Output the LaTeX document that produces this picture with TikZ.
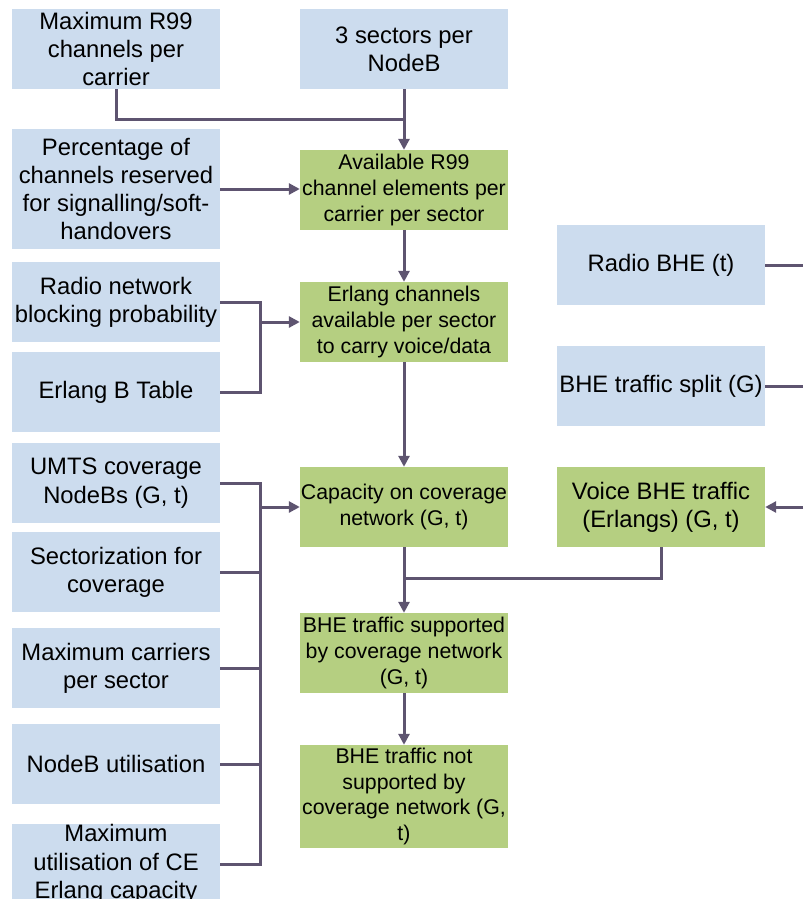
\documentclass[tikz,border=0pt]{standalone}
\usepackage{fontspec}
\setmainfont{Liberation Sans}
\usetikzlibrary{arrows.meta}
\definecolor{boxblue}{HTML}{CCDCEE}
\definecolor{boxgreen}{HTML}{B5CF81}
\definecolor{linec}{HTML}{5E5470}
\tikzset{
  base/.style={rectangle, inner sep=0pt, minimum width=208pt, minimum height=80pt, align=center, text=black},
  inbox/.style={base, fill=boxblue, font=\fontsize{23.8}{28.3}\selectfont},
  calcbox/.style={base, fill=boxgreen, font=\fontsize{21.3}{25.8}\selectfont},
  bigcalc/.style={base, fill=boxgreen, font=\fontsize{23.8}{28.3}\selectfont},
  conn/.style={draw=linec, line width=3pt},
  arr/.style={conn, -{Triangle[length=11pt,width=11pt]}}
}
\begin{document}
\begin{tikzpicture}[x=1pt,y=-1pt]
\useasboundingbox (0,0) rectangle (803,899);
\clip (0,0) rectangle (803,899);
% left column
\node[inbox] (maxr) at (116,49) {Maximum R99\\channels per\\carrier};
\node[inbox, minimum height=120pt] (pct) at (116,189) {Percentage of\\channels reserved\\for signalling/soft-\\handovers};
\node[inbox] (radio) at (116,302) {Radio network\\blocking probability};
\node[inbox] (erlb) at (116,392) {Erlang B Table};
\node[inbox] (umts) at (116,483) {UMTS coverage\\NodeBs (G, t)};
\node[inbox] (sect) at (116,572) {Sectorization for\\coverage};
\node[inbox] (maxc) at (116,668) {Maximum carriers\\per sector};
\node[inbox] (nbu) at (116,764) {NodeB utilisation};
\node[inbox] (maxu) at (116,864) {Maximum\\utilisation of CE\\Erlang capacity};
% centre column
\node[inbox] (sec) at (404,49) {3 sectors per\\NodeB};
\node[calcbox] (avail) at (404,190) {Available R99\\channel elements per\\carrier per sector};
\node[calcbox] (erlch) at (404,322) {Erlang channels\\available per sector\\to carry voice/data};
\node[calcbox] (cap) at (404,507) {Capacity on coverage\\network (G, t)};
\node[calcbox] (sup) at (404,653) {BHE traffic supported\\by coverage network\\(G, t)};
\node[calcbox, minimum height=103pt] (nsup) at (404,796.5) {BHE traffic not\\supported by\\coverage network (G,\\t)};
% right column
\node[inbox] (rbhe) at (661,265) {Radio BHE (t)};
\node[inbox] (split) at (661,386) {BHE traffic split (G)};
\node[bigcalc] (voice) at (661,507) {Voice BHE traffic\\(Erlangs) (G, t)};
% coordinates
\coordinate (j1) at (404,119);
\coordinate (b1) at (260,322);
\coordinate (b2) at (260,507);
\coordinate (j2) at (404,578);
\coordinate (e1) at (803,265);
\coordinate (e2) at (803,386);
\coordinate (e3) at (803,507);
% connectors
\draw[conn] (maxr.south) |- (j1);
\draw[arr] (sec.south) -- (avail.north);
\draw[arr] (pct.east) -- (pct.east -| avail.west);
\draw[arr] (avail.south) -- (erlch.north);
\draw[conn] (radio.east) -| (b1) |- (erlb.east);
\draw[arr] (b1) -- (erlch.west);
\draw[arr] (erlch.south) -- (cap.north);
\draw[conn] (umts.east) -| (b2);
\draw[conn] (sect.east) -| (b2);
\draw[conn] (maxc.east) -| (b2);
\draw[conn] (nbu.east) -| (b2);
\draw[conn] (maxu.east) -| (b2);
\draw[arr] (b2) -- (cap.west);
\draw[arr] (cap.south) -- (sup.north);
\draw[conn] (voice.south) |- (j2);
\draw[arr] (sup.south) -- (nsup.north);
\draw[conn] (rbhe.east) -- (e1);
\draw[conn] (split.east) -- (e2);
\draw[arr] (e3) -- (voice.east);
\end{tikzpicture}
\end{document}
